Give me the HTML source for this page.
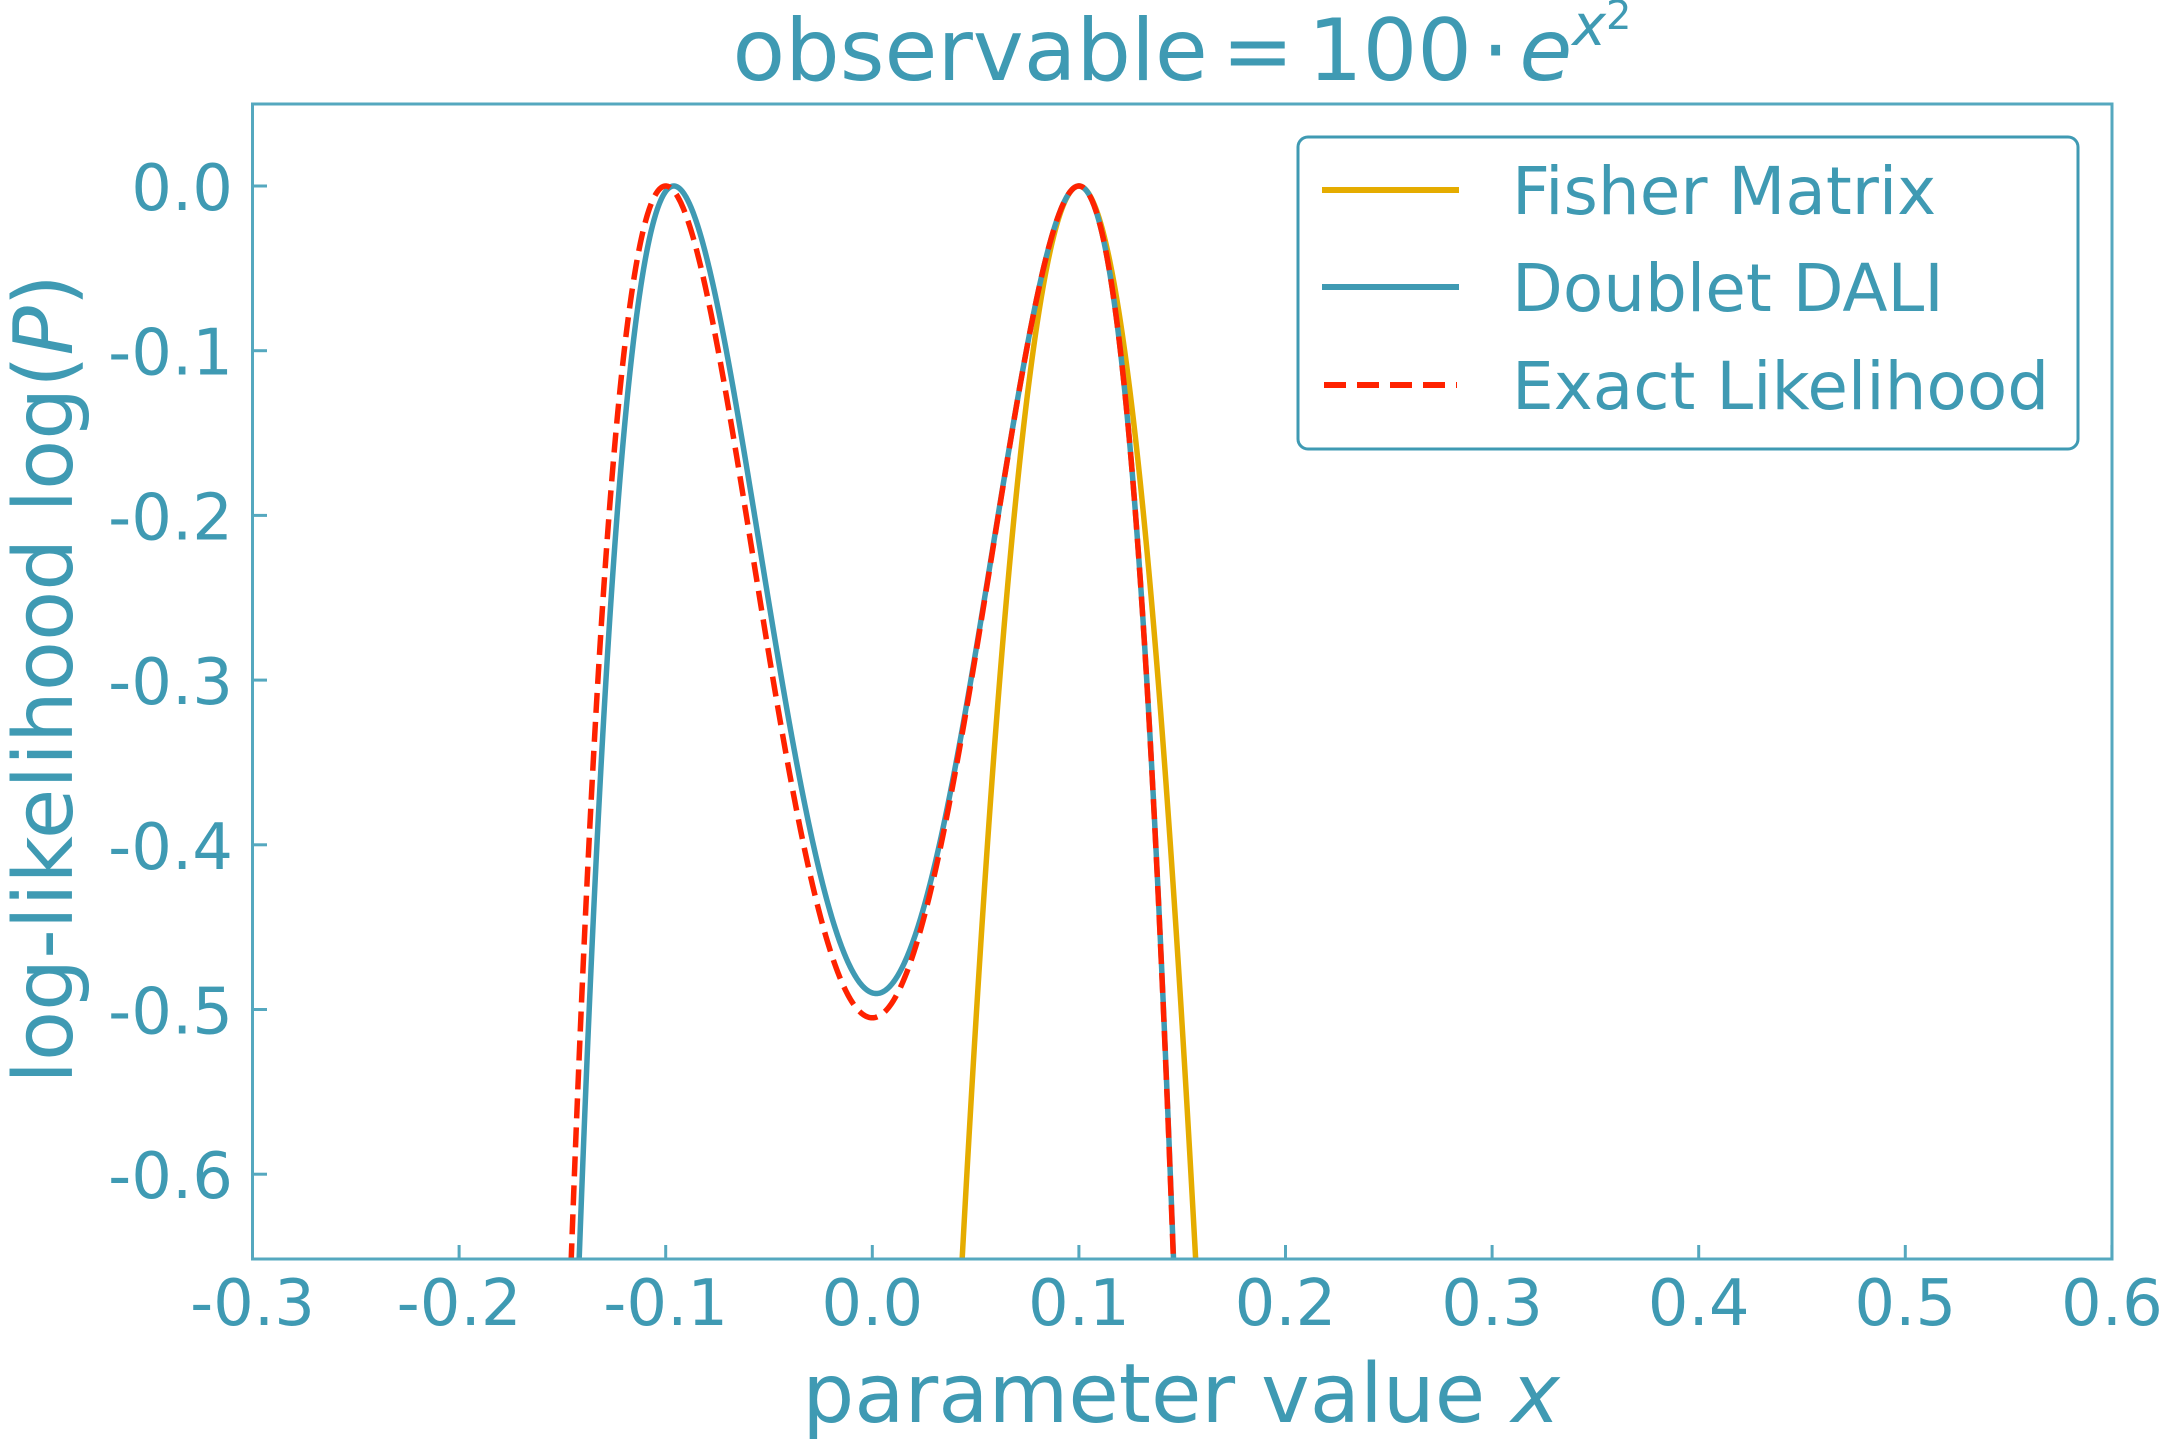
<!DOCTYPE html>
<html><head><meta charset="utf-8"><style>
html,body{margin:0;padding:0;background:#fff;overflow:hidden;width:2171px;height:1445px;}
svg{display:block;}
text{font-family:"DejaVu Sans","Liberation Sans",sans-serif;fill:#3f9ab3;}
</style></head><body>
<svg id="s" width="2171" height="1445" viewBox="0 0 2171 1445" xmlns="http://www.w3.org/2000/svg">
<defs><clipPath id="c"><rect x="252.5" y="104" width="1859.5" height="1155"/></clipPath></defs>
<rect width="2171" height="1445" fill="#fff"/>
<g clip-path="url(#c)" fill="none" stroke-linejoin="round">
<path id="pf" stroke="#e5ac00" stroke-width="5.5"/>
<path id="pd" stroke="#3f9ab3" stroke-width="5.5"/>
<path id="pe" stroke="#ff2200" stroke-width="5.5" stroke-dasharray="20,9"/>
</g>
<rect x="252.5" y="104" width="1859.5" height="1155" fill="none" stroke="#55a8bf" stroke-width="3"/>
<g id="ticks" stroke="#55a8bf" stroke-width="3"></g>
<g id="lbl" font-size="64"></g>
<text x="1182" y="80" font-size="86" text-anchor="middle">observable<tspan dx="14">=</tspan><tspan dx="14">100</tspan><tspan dx="10">·</tspan><tspan dx="10" font-style="italic">e</tspan><tspan font-style="italic" font-size="57" dy="-35">x</tspan><tspan font-size="40" dy="-16">2</tspan></text>
<text x="1181" y="1422" font-size="82" text-anchor="middle">parameter value <tspan font-style="italic">x</tspan></text>
<text transform="translate(72,679) rotate(-90)" font-size="82" text-anchor="middle">log-likelihood log(<tspan font-style="italic">P</tspan>)</text>
<rect x="1298" y="137" width="780" height="312" rx="10" fill="#fff" stroke="#3f9ab3" stroke-width="3"/>
<line x1="1322" y1="190" x2="1459" y2="190" stroke="#e5ac00" stroke-width="6"/>
<line x1="1322" y1="287" x2="1459" y2="287" stroke="#3f9ab3" stroke-width="6"/>
<line x1="1324" y1="385" x2="1457" y2="385" stroke="#ff2200" stroke-width="6" stroke-dasharray="22,11"/>
<text x="1512" y="214" font-size="66">Fisher Matrix</text>
<text x="1512" y="311" font-size="66">Doublet DALI</text>
<text x="1512" y="409" font-size="66">Exact Likelihood</text>
</svg>
<script>
var X=function(x){return 252.5+(x+0.3)*2066;},Y=function(v){return 186-v*1647;};
var x0=0.1,f=function(x){return 100*Math.exp(x*x);};
var f0=f(x0),f1=200*x0*Math.exp(x0*x0),f2=(200+400*x0*x0)*Math.exp(x0*x0);
function path(g){var d="";for(var i=0;i<=3000;i++){var x=-0.3+0.9*i/3000;var v=g(x);if(v<-1)v=-1;d+=(i?"L":"M")+X(x).toFixed(2)+","+Y(v).toFixed(2);}return d;}
document.getElementById("pf").setAttribute("d",path(function(x){var t=x-x0;return -0.5*f1*f1*t*t;}));
document.getElementById("pd").setAttribute("d",path(function(x){var t=x-x0;var r=f1*t+0.5*f2*t*t;return -0.5*r*r;}));
document.getElementById("pe").setAttribute("d",path(function(x){var r=f(x)-f0;return -0.5*r*r;}));
var tk=document.getElementById("ticks"),lb=document.getElementById("lbl"),ns="http://www.w3.org/2000/svg";
function el(p,n,a,t){var e=document.createElementNS(ns,n);for(var k in a)e.setAttribute(k,a[k]);if(t)e.textContent=t;p.appendChild(e);}
for(var i=0;i<10;i++){var xv=-0.3+0.1*i,px=X(xv);el(tk,"line",{x1:px,y1:1259,x2:px,y2:1245});
el(lb,"text",{x:px,y:1325,"text-anchor":"middle"},(Math.abs(xv)<1e-9?"0.0":xv.toFixed(1)));}
for(var j=0;j<7;j++){var yv=-0.1*j,py=Y(yv);el(tk,"line",{x1:252.5,y1:py,x2:267,y2:py});
el(lb,"text",{x:233,y:py+24,"text-anchor":"end"},(j==0?"0.0":yv.toFixed(1)));}
</script>
</body></html>
